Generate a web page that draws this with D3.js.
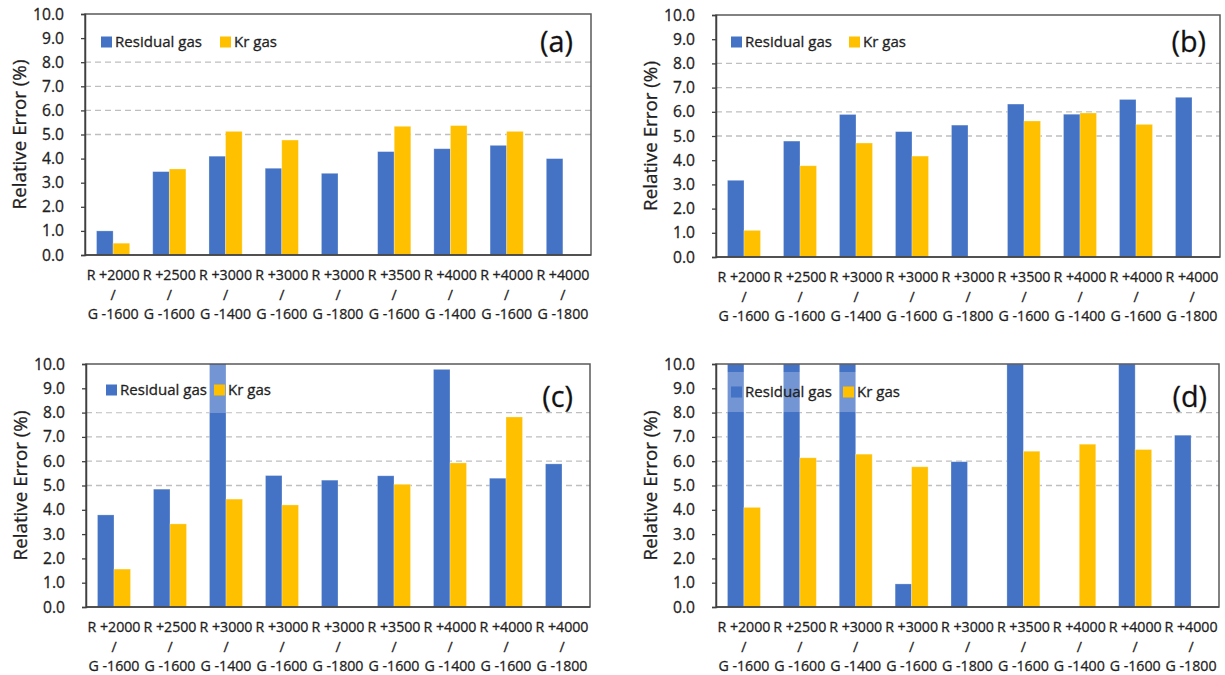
<!DOCTYPE html>
<html>
<head>
<meta charset="utf-8">
<script src="https://cdn.jsdelivr.net/npm/d3@7"></script>
<style>
  html, body { margin: 0; padding: 0; background: #ffffff; }
  svg { display: block; font-family: "Open Sans", sans-serif; }
  svg text { stroke: #1f1f1f; stroke-width: 0.3px; }
</style>
</head>
<body>
<svg id="chart" width="1225" height="675"></svg>
<script>
// ---------------- DATA ----------------
const catTop = ["R +2000", "R +2500", "R +3000", "R +3000", "R +3000", "R +3500", "R +4000", "R +4000", "R +4000"];
const catBottom = ["G -1600", "G -1600", "G -1400", "G -1600", "G -1800", "G -1600", "G -1400", "G -1600", "G -1800"];
const seriesNames = ["Residual gas", "Kr gas"];
const yTicks = [0, 1, 2, 3, 4, 5, 6, 7, 8, 9, 10];
const gridValues = [5, 6, 7, 8];
const panelLabels = ["(a)", "(b)", "(c)", "(d)"];

// values above 10 run off the top of the axis (drawn clipped at 10.0)
const residualA = [1.0, 3.46, 4.1, 3.6, 3.39, 4.29, 4.41, 4.55, 4.0];
const krA       = [0.49, 3.57, 5.13, 4.77, null, 5.34, 5.37, 5.13, null];
const residualB = [3.17, 4.79, 5.89, 5.18, 5.45, 6.32, 5.9, 6.51, 6.6];
const krB       = [1.1, 3.77, 4.71, 4.17, null, 5.62, 5.95, 5.48, null];
const residualC = [3.79, 4.85, 10.0, 5.41, 5.22, 5.4, 9.78, 5.3, 5.89];
const krC       = [1.56, 3.42, 4.44, 4.2, null, 5.05, 5.93, 7.82, null];
const residualD = [10.0, 10.0, 10.0, 0.95, 5.98, 10.0, null, 10.0, 7.07];
const krD       = [4.1, 6.14, 6.29, 5.77, null, 6.41, 6.7, 6.48, null];

// ---------------- LAYOUT / STYLE ----------------
const colors = ["#4472C4", "#FFC000"];
const textColor = "#1f1f1f";
const panels = [
  { res: residualA, kr: krA, left: 85,  right: 591,  top: 14,  bottom: 255, leg: [101, 220, 42],  legBox: [26, 58],  labelX: 573,  labelY: 42 },
  { res: residualB, kr: krB, left: 716, right: 1220, top: 15,  bottom: 257, leg: [731, 849, 42],  legBox: [26, 58],  labelX: 1206, labelY: 42 },
  { res: residualC, kr: krC, left: 86,  right: 590,  top: 364, bottom: 607, leg: [106, 214, 390], legBox: [365, 413], labelX: 573,  labelY: 397 },
  { res: residualD, kr: krD, left: 716, right: 1219, top: 364, bottom: 607, leg: [731, 843, 392], legBox: [372, 412], labelX: 1207, labelY: 397 }
];

const svg = d3.select("#chart");

// pick font sizes so that sample strings have the widths seen in the reference
function fitSize(str, targetWidth) {
  const t = svg.append("text").style("font-size", "100px").style("stroke", "none").text(str);
  const w = t.node().getComputedTextLength();
  t.remove();
  return 100 * targetWidth / w;
}
const tickSize = fitSize("10.0", 31);
const xLabelSize = fitSize("R +2000", 53);
const titleSize = fitSize("Relative Error (%)", 150);
const legendSize = fitSize("Residual gas", 87);
const panelLabelSize = fitSize("(a)", 33);

panels.forEach((p, pi) => {
  const g = svg.append("g");
  const x0 = d3.scaleBand().domain(d3.range(catTop.length)).range([p.left, p.right])
    .paddingInner(0.41).paddingOuter(0.205);
  const x1 = d3.scaleBand().domain([0, 1]).range([0, x0.bandwidth()]);
  const y = d3.scaleLinear().domain([0, 10]).range([p.bottom, p.top]).clamp(true);

  // gridlines
  g.append("g").selectAll("line").data(gridValues).join("line")
    .attr("x1", p.left).attr("x2", p.right)
    .attr("y1", d => y(d)).attr("y2", d => y(d))
    .attr("stroke", "#BFBFBF").attr("stroke-width", 1.3).attr("stroke-dasharray", "6,4");

  // bars
  const rows = [];
  catTop.forEach((c, i) => {
    [p.res[i], p.kr[i]].forEach((v, s) => { if (v !== null) rows.push({ i, s, v }); });
  });
  g.append("g").selectAll("rect").data(rows).join("rect")
    .attr("x", d => x0(d.i) + x1(d.s))
    .attr("width", x1.bandwidth())
    .attr("y", d => y(d.v))
    .attr("height", d => y(0) - y(d.v))
    .attr("fill", d => colors[d.s])
    .attr("stroke", "rgba(255,255,255,0.35)").attr("stroke-width", 0.8);

  // frame
  g.append("rect").attr("x", p.left).attr("y", p.top)
    .attr("width", p.right - p.left).attr("height", p.bottom - p.top)
    .attr("fill", "none").attr("stroke", "#595959").attr("stroke-width", 1.5);

  // y axis
  const yAxis = g.append("g").attr("transform", `translate(${p.left},0)`)
    .call(d3.axisLeft(y).tickValues(yTicks).tickFormat(d3.format(".1f")).tickSize(4).tickPadding(17));
  yAxis.select(".domain").attr("stroke", "#404040").attr("stroke-width", 1.5);
  yAxis.selectAll(".tick line").attr("stroke", "#404040").attr("stroke-width", 1.3);
  yAxis.selectAll(".tick text").attr("fill", textColor)
    .style("font-family", "'Open Sans', sans-serif").style("font-size", tickSize + "px");

  // x axis line
  g.append("line").attr("x1", p.left).attr("x2", p.right).attr("y1", p.bottom).attr("y2", p.bottom)
    .attr("stroke", "#404040").attr("stroke-width", 1.5);

  // x labels (three lines)
  const xl = g.append("g").selectAll("text").data(catTop).join("text")
    .attr("text-anchor", "middle").attr("fill", textColor)
    .style("font-size", xLabelSize + "px");
  xl.each(function (d, i) {
    const cx = x0(i) + x0.bandwidth() / 2;
    const t = d3.select(this);
    t.append("tspan").attr("x", cx).attr("y", p.bottom + 20).attr("dy", "0.35em").text(d);
    t.append("tspan").attr("x", cx).attr("y", p.bottom + 40).attr("dy", "0.35em").text("/");
    t.append("tspan").attr("x", cx).attr("y", p.bottom + 59).attr("dy", "0.35em").text(catBottom[i]);
  });

  // y title
  g.append("text")
    .attr("transform", `translate(${p.left - 66},${(p.top + p.bottom) / 2}) rotate(-90)`)
    .attr("text-anchor", "middle").attr("dy", "0.35em")
    .attr("fill", textColor).style("font-size", titleSize + "px")
    .text("Relative Error (%)");

  // legend
  const [s1, s2, ly] = p.leg;
  g.append("rect").attr("x", s1 - 9).attr("y", p.legBox[0])
    .attr("width", s2 + 66 - (s1 - 9)).attr("height", p.legBox[1] - p.legBox[0])
    .attr("fill", "#ffffff").attr("fill-opacity", 0.25);
  [s1, s2].forEach((sx, k) => {
    g.append("rect").attr("x", sx).attr("y", ly - 5.5).attr("width", 11).attr("height", 11)
      .attr("fill", colors[k]);
    g.append("text").attr("x", sx + 14).attr("y", ly).attr("dy", "0.35em")
      .attr("fill", textColor).style("font-size", legendSize + "px").text(seriesNames[k]);
  });

  // panel label
  g.append("text").attr("x", p.labelX).attr("y", p.labelY).attr("dy", "0.35em")
    .attr("text-anchor", "end").attr("fill", "#111").style("font-size", panelLabelSize + "px")
    .text(panelLabels[pi]);
});
</script>
</body>
</html>
